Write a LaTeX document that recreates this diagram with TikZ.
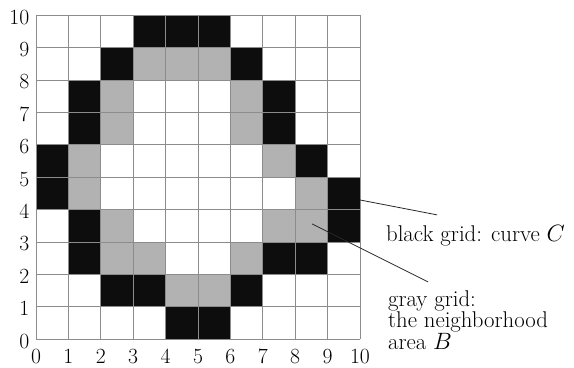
\documentclass[tikz,border=0pt]{standalone}
\usepackage{fontspec}
\begin{document}
\begin{tikzpicture}[x=1cm,y=1cm,
  blackcell/.style={fill=black!95},
  graycell/.style={fill=gray!60},
  gridline/.style={draw=gray!90,line width=0.8pt},
  axisnum/.style={font=\fontsize{19}{18}\selectfont,inner sep=0pt},
  labeltext/.style={font=\fontsize{20}{17.8}\selectfont,inner sep=0pt,align=left},
  pointer/.style={draw=black!85,line width=0.7pt}]
\useasboundingbox (-1.111,-0.886) rectangle (16.605,10.472);
% black cells (curve C)
\foreach \x/\y in {3/9,4/9,5/9, 2/8,6/8, 1/7,7/7, 1/6,7/6, 0/5,8/5, 0/4,9/4,
  1/3,9/3, 1/2,7/2,8/2, 2/1,3/1,6/1, 4/0,5/0}
  \path[blackcell] (\x,\y) rectangle ++(1,1);
% gray cells (neighbourhood B)
\foreach \x/\y in {3/8,4/8,5/8, 2/7,6/7, 2/6,6/6, 1/5,7/5, 1/4,8/4,
  2/3,7/3,8/3, 2/2,3/2,6/2, 4/1,5/1}
  \path[graycell] (\x,\y) rectangle ++(1,1);
\draw[gridline] (0,0) grid (10,10);
% axis numbers
\foreach \i in {0,...,10} {
  \node[axisnum,anchor=base east] (y\i) at (-0.2,\i-0.27) {\i};
  \node[axisnum,anchor=base] (x\i) at (\i,-0.76) {\i};
}
% labels
\node[labeltext,anchor=base west] (lblC) at (10.80,3.01) {black grid: curve $C$};
\node[labeltext,anchor=north west] (lblB) at (10.86,1.52) {gray grid:\\the neighborhood\\area $B$};
% pointers
\coordinate (pC1) at (10,4.30);
\coordinate (pC2) at (12.38,3.84);
\coordinate (pB1) at (8.52,3.56);
\coordinate (pB2) at (12.10,1.77);
\draw[pointer] (pC1) -- (pC2);
\draw[pointer] (pB1) -- (pB2);
\end{tikzpicture}
\end{document}
